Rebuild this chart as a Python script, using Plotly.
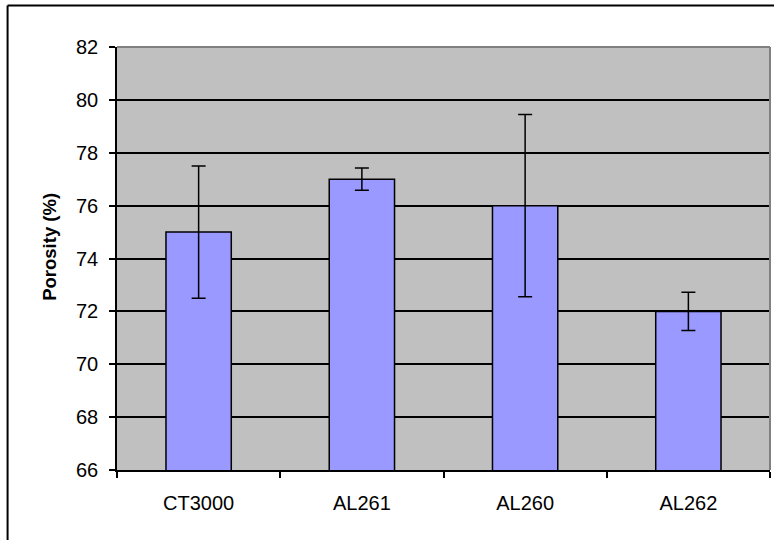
import plotly.graph_objects as go

categories = ["CT3000", "AL261", "AL260", "AL262"]
porosity = [75.0, 77.0, 76.0, 72.0]
porosity_err = [2.5, 0.42, 3.45, 0.72]
y_ticks = [66, 68, 70, 72, 74, 76, 78, 80, 82]

W, H = 774, 540
L, R, T, B = 117, 3.5, 47, 69.5
pw, ph = W - L - R, H - T - B

def px_x(x):
    return (x - L) / pw

def px_y(y):
    return (H - B - y) / ph

fig = go.Figure()
fig.add_trace(go.Bar(
    x=categories, y=porosity, width=0.4,
    marker=dict(color="#9999FF", line=dict(color="black", width=1.5)),
    error_y=dict(type="data", array=porosity_err, visible=True,
                 color="black", thickness=1.5, width=7),
))

font = "Liberation Sans, Arial, sans-serif"
fig.update_layout(
    width=W, height=H,
    margin=dict(l=L, r=R, t=T, b=B, autoexpand=False),
    paper_bgcolor="white", plot_bgcolor="#C0C0C0",
    showlegend=False,
    font=dict(family=font, size=20, color="black"),
    xaxis=dict(type="category", tickson="boundaries", ticks="outside", ticklen=6,
               tickcolor="black", tickwidth=1.5, showline=True, linecolor="black",
               linewidth=1.5, showgrid=False, tickfont=dict(size=20),
               ticklabelstandoff=14),
    yaxis=dict(range=[66, 82], tickvals=y_ticks, ticks="outside", ticklen=6,
               tickcolor="black", tickwidth=1.5, showline=True, linecolor="black",
               linewidth=1.5, showgrid=True, gridcolor="black", gridwidth=1.5,
               zeroline=False, tickfont=dict(size=20), ticklabelstandoff=7),
    annotations=[dict(text="<b>Porosity (%)</b>", textangle=-90, xref="paper", yref="paper",
                      x=px_x(50), y=px_y(247), xanchor="center", yanchor="middle",
                      showarrow=False, font=dict(size=18.5, family=font))],
    shapes=[
        dict(type="line", xref="paper", yref="paper", x0=0, x1=1, y0=1, y1=1,
             line=dict(color="#808080", width=2), layer="above"),
        dict(type="line", xref="paper", yref="paper", x0=1, x1=1, y0=0, y1=1,
             line=dict(color="#808080", width=2), layer="above"),
        dict(type="line", xref="paper", yref="paper", x0=px_x(7.5), x1=px_x(800),
             y0=px_y(5.5), y1=px_y(5.5), line=dict(color="black", width=2)),
        dict(type="line", xref="paper", yref="paper", x0=px_x(7.5), x1=px_x(7.5),
             y0=px_y(5.5), y1=px_y(560), line=dict(color="black", width=2)),
    ],
)

fig.write_html("out.html", config={"displayModeBar": False},
               post_script="document.body.style.margin='0px';")
